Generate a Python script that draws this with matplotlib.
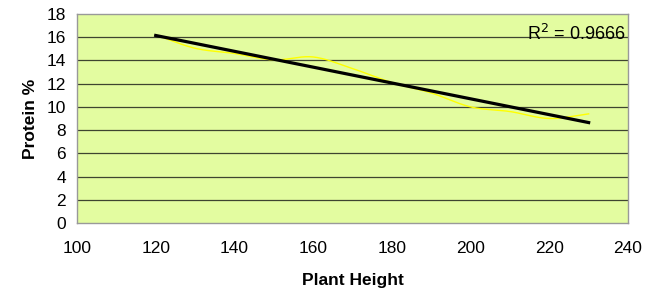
import numpy as np
import matplotlib
matplotlib.use("Agg")
import matplotlib.pyplot as plt

plt.rcParams['font.family'] = ['Liberation Sans', 'DejaVu Sans']

plant_height = [120, 130, 140, 150, 160, 170, 180, 190, 200, 210, 220, 230]
protein = [16.2, 15.05, 14.6, 14.05, 14.3, 13.3, 12.1, 11.2, 10.0, 9.6, 9.0, 9.4]
r2_label = "R$^2$ = 0.9666"
x_ticks = [100, 120, 140, 160, 180, 200, 220, 240]
y_ticks = [0, 2, 4, 6, 8, 10, 12, 14, 16, 18]


def catmull_rom(x, y, n=20):
    x = np.asarray(x, float); y = np.asarray(y, float)
    px = np.concatenate([[2*x[0]-x[1]], x, [2*x[-1]-x[-2]]])
    py = np.concatenate([[2*y[0]-y[1]], y, [2*y[-1]-y[-2]]])
    xs, ys = [], []
    t = np.linspace(0, 1, n, endpoint=False)
    for i in range(1, len(px)-2):
        p0, p1, p2, p3 = [np.array([px[j], py[j]]) for j in range(i-1, i+3)]
        for tt in t:
            pt = 0.5*((2*p1) + (-p0+p2)*tt + (2*p0-5*p1+4*p2-p3)*tt**2 + (-p0+3*p1-3*p2+p3)*tt**3)
            xs.append(pt[0]); ys.append(pt[1])
    xs.append(x[-1]); ys.append(y[-1])
    return np.array(xs), np.array(ys)


fig = plt.figure(figsize=(6.59, 2.95), dpi=100)
ax = fig.add_axes([77/659, 1-223/295, (628-77)/659, (223-14)/295])
ax.set_facecolor('#E3FCA0')

sx, sy = catmull_rom(plant_height, protein)
ax.plot(sx, sy, color='#FFFF00', lw=1.0, zorder=3)

coef = np.polyfit(plant_height, protein, 1)
tx = np.array([plant_height[0], plant_height[-1]])
ax.plot(tx, np.polyval(coef, tx), color='black', lw=2.3, zorder=4)

ax.set_xlim(100, 240)
ax.set_ylim(0, 18)
ax.set_xticks(x_ticks)
ax.set_yticks(y_ticks)
for yv in y_ticks[1:-1]:
    ax.axhline(yv, color='#3e4430', lw=0.9, zorder=2)

for s in ['top', 'right', 'left', 'bottom']:
    ax.spines[s].set_color('#999999')
    ax.spines[s].set_linewidth(1.0)

ax.tick_params(axis='both', length=0, labelsize=12.5, colors='black')
ax.tick_params(axis='x', pad=13)
ax.tick_params(axis='y', pad=8)

ax.set_xlabel('Plant Height', fontsize=12.5, fontweight='bold', labelpad=12)
ax.set_ylabel('Protein %', fontsize=12.5, fontweight='bold', labelpad=6)

ax.text(0.995, 0.905, r2_label, transform=ax.transAxes, ha='right', va='center',
        fontsize=13, zorder=5)

fig.savefig('out.png', dpi=100)
